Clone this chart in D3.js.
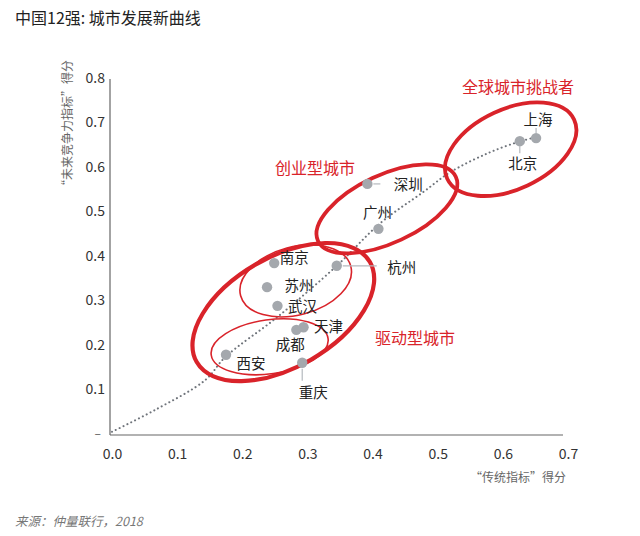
<!DOCTYPE html>
<html>
<head>
<meta charset="utf-8">
<script src="https://cdn.jsdelivr.net/npm/d3@7"></script>
<style>
  body { margin: 0; background: #fff; }
  svg { display: block; }
  text { font-family: "Noto Sans CJK SC", "Noto Sans", sans-serif; }
</style>
</head>
<body>
<div id="chart"></div>
<script>
// city scores: x = "传统指标", y = "未来竞争力指标"
const CITIES = ["上海", "北京", "深圳", "广州", "杭州", "南京", "苏州", "武汉", "天津", "成都", "西安", "重庆"];
const TRAD   = [0.651, 0.626, 0.392, 0.409, 0.345, 0.249, 0.238, 0.254, 0.294, 0.283, 0.175, 0.292];
const FUTURE = [0.665, 0.658, 0.562, 0.461, 0.378, 0.384, 0.330, 0.288, 0.240, 0.234, 0.178, 0.160];

// trend curve
const CURVE_X = [0.0, 0.066, 0.143, 0.174, 0.254, 0.345, 0.412, 0.478, 0.52, 0.577, 0.623, 0.651];
const CURVE_Y = [0.005, 0.054, 0.121, 0.173, 0.263, 0.378, 0.474, 0.544, 0.589, 0.631, 0.656, 0.667];

const X_TICKS = [0, 0.1, 0.2, 0.3, 0.4, 0.5, 0.6, 0.7];
const Y_TICKS = [0.1, 0.2, 0.3, 0.4, 0.5, 0.6, 0.7, 0.8];

// group rings (center in data units)
const RING_X = [0.612, 0.422, 0.263, 0.282, 0.242];
const RING_Y = [0.640, 0.506, 0.274, 0.344, 0.196];

const GROUPS = ["全球城市挑战者", "创业型城市", "驱动型城市"];

var width = 640, height = 536;
var red = "#d9232a";

var svg = d3.select("#chart").append("svg")
    .attr("width", width).attr("height", height);

var x = d3.scaleLinear().domain([0, 0.7]).range([112, 568]);
var y = d3.scaleLinear().domain([0, 0.8]).range([434, 78]);

// title
svg.append("text").attr("x", 15).attr("y", 24)
   .attr("font-size", 16).attr("fill", "#222")
   .text("中国12强: 城市发展新曲线");

// axes
var xAxis = d3.axisBottom(x).tickValues(X_TICKS).tickSize(0).tickPadding(14)
    .tickFormat(d3.format(".1f"));
var yAxis = d3.axisLeft(y).tickValues(Y_TICKS).tickSize(0).tickPadding(5)
    .tickFormat(d3.format(".1f"));

var gx = svg.append("g").attr("transform", "translate(0,435)").call(xAxis);
var gy = svg.append("g").attr("transform", "translate(110,0)").call(yAxis);
gx.select(".domain").remove();
gy.select(".domain").remove();
svg.selectAll(".tick text")
   .attr("font-family", "'Noto Sans', sans-serif")
   .attr("font-size", 14).attr("fill", "#333");

// zero mark on y axis
svg.append("text").attr("x", 101).attr("y", y(0) + 4)
   .attr("text-anchor", "end").attr("font-size", 12).attr("fill", "#555").text("–");

svg.append("line").attr("x1", 110).attr("x2", 110).attr("y1", 79).attr("y2", 435)
   .attr("stroke", "#666").attr("stroke-width", 1.2);
svg.append("line").attr("x1", 110).attr("x2", x(0.7) - 5).attr("y1", 435).attr("y2", 435)
   .attr("stroke", "#666").attr("stroke-width", 1.2);

// axis titles
svg.append("text")
   .attr("transform", "translate(72,126) rotate(-90)")
   .attr("font-family", "'Noto Sans', 'Noto Sans CJK SC', sans-serif")
   .attr("text-anchor", "middle").attr("font-size", 12).attr("fill", "#666")
   .text("“未来竞争力指标”得分");
svg.append("text").attr("x", 518).attr("y", 482)
   .attr("font-family", "'Noto Sans', 'Noto Sans CJK SC', sans-serif")
   .attr("text-anchor", "middle").attr("font-size", 12).attr("fill", "#666")
   .text("“传统指标”得分");

// dotted trend line
var line = d3.line()
    .x(function(d) { return x(d[0]); })
    .y(function(d) { return y(d[1]); })
    .curve(d3.curveCatmullRom);
svg.append("path")
   .attr("d", line(d3.zip(CURVE_X, CURVE_Y)))
   .attr("fill", "none").attr("stroke", "#6f747b")
   .attr("stroke-width", 2).attr("stroke-linecap", "round")
   .attr("stroke-dasharray", "0.1 4.2");

// rings
var ringR = [[70, 40, -25, 3.8], [76, 34, -25, 3.8], [100, 55, -30, 4.2], [57, 34, -15, 1.6], [59, 27, -8, 1.6]];
svg.selectAll(".ring").data(RING_X).enter().append("ellipse")
   .attr("class", "ring")
   .attr("transform", function(d, i) {
       return "translate(" + x(d) + "," + y(RING_Y[i]) + ") rotate(" + ringR[i][2] + ")";
   })
   .attr("rx", function(d, i) { return ringR[i][0]; })
   .attr("ry", function(d, i) { return ringR[i][1]; })
   .attr("fill", "none").attr("stroke", red)
   .attr("stroke-width", function(d, i) { return ringR[i][3]; });

// group names
var groupPos = [[518, 93], [315, 174], [415, 344]];
svg.selectAll(".grp").data(GROUPS).enter().append("text")
   .attr("class", "grp")
   .attr("x", function(d, i) { return groupPos[i][0]; })
   .attr("y", function(d, i) { return groupPos[i][1]; })
   .attr("text-anchor", "middle").attr("font-size", 16).attr("fill", red)
   .text(function(d) { return d; });

// label offsets from each point: [dx, dy] of label center, leader line [x1,y1,x2,y2] relative
var labelOff = [[2, -18], [3, 23], [41, 1], [-1, -16], [65, 2], [20, -5], [32, -1], [25, 1], [25, 0], [-6, 15], [25, 9], [11, 30]];
var leaders = [[0, -5, 0, -10], [0, 5, 0, 12], [6, 0, 13, 0], null, [6, 0, 40, 0], null, null, null, null, null, null, [0, 6, 0, 18]];

CITIES.forEach(function(c, i) {
    var px = x(TRAD[i]), py = y(FUTURE[i]);
    var l = leaders[i];
    if (l) {
        svg.append("line")
           .attr("x1", px + l[0]).attr("y1", py + l[1])
           .attr("x2", px + l[2]).attr("y2", py + l[3])
           .attr("stroke", "#b5b9be").attr("stroke-width", 1.2);
    }
});

svg.selectAll(".pt").data(CITIES).enter().append("circle")
   .attr("class", "pt")
   .attr("cx", function(d, i) { return x(TRAD[i]); })
   .attr("cy", function(d, i) { return y(FUTURE[i]); })
   .attr("r", 5.2).attr("fill", "#a4a8ad");

svg.selectAll(".lbl").data(CITIES).enter().append("text")
   .attr("class", "lbl")
   .attr("x", function(d, i) { return x(TRAD[i]) + labelOff[i][0]; })
   .attr("y", function(d, i) { return y(FUTURE[i]) + labelOff[i][1]; })
   .attr("dy", "0.36em")
   .attr("text-anchor", "middle").attr("font-size", 14.5).attr("fill", "#222")
   .text(function(d) { return d; });

// source
svg.append("text").attr("x", 15).attr("y", 526)
   .attr("font-size", 12.5).attr("font-style", "italic").attr("fill", "#777")
   .text("来源：仲量联行，2018");
</script>
</body>
</html>
